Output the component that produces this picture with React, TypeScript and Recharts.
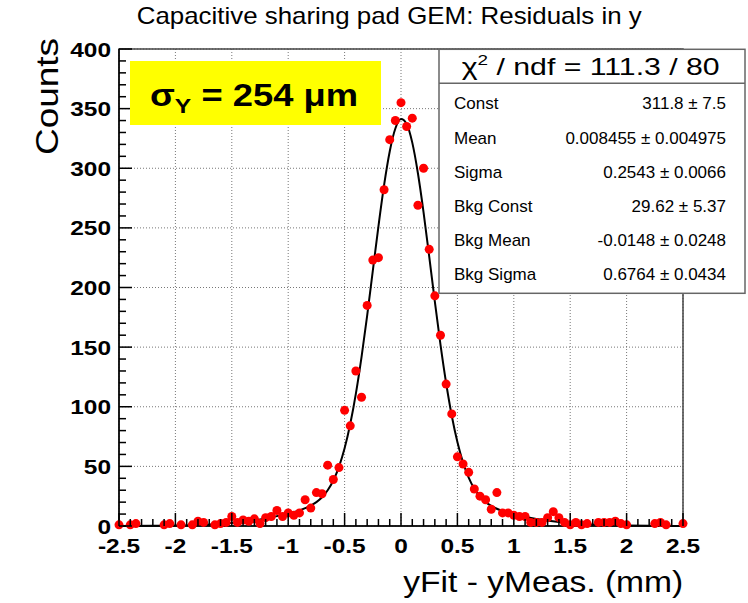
import React from "react"
import {
  ComposedChart,
  Scatter,
  Line,
  XAxis,
  YAxis,
  CartesianGrid,
  ReferenceArea,
} from "recharts"

// histogram bins (bin centre, mm) and counts
const binX = [
  -2.5, -2.4, -2.35, -2.1, -2.05, -1.95, -1.85, -1.8, -1.75, -1.65, -1.6, -1.55, -1.5, -1.45, -1.4, -1.35,
  -1.3, -1.25, -1.2, -1.15, -1.1, -1.05, -1.0, -0.95, -0.9, -0.85, -0.8, -0.75, -0.7, -0.65, -0.6, -0.55,
  -0.5, -0.45, -0.4, -0.35, -0.3, -0.25, -0.2, -0.15, -0.1, -0.05, 0, 0.05, 0.1, 0.15, 0.2, 0.25, 0.3,
  0.35, 0.4, 0.45, 0.5, 0.55, 0.6, 0.65, 0.7, 0.75, 0.8, 0.85, 0.9, 0.95, 1.0, 1.05, 1.1, 1.15, 1.2, 1.25,
  1.3, 1.35, 1.4, 1.45, 1.5, 1.55, 1.6, 1.65, 1.75, 1.8, 1.85, 1.9, 1.95, 2.0, 2.25, 2.3, 2.35, 2.5,
]
const binCounts = [
  1, 1, 2, 1, 2, 1, 1, 4, 3, 1, 2, 3, 8, 3, 5, 4,
  6, 2, 7, 8, 13, 8, 11, 9, 11, 22, 15, 28, 27, 51, 39, 49,
  97, 84, 130, 108, 185, 223, 225, 282, 324, 340, 355, 335, 342, 269, 300, 232, 193,
  160, 119, 94, 58, 52, 45, 31, 25, 22, 14, 28, 11, 11, 9, 8, 8, 3, 3, 3,
  7, 12, 7, 3, 1, 3, 1, 2, 3, 3, 3, 4, 2, 1, 2, 3, 1, 2,
]

// fitted curve (double gaussian)
const fitX = [
  -2.5, -2.2, -2.0, -1.8, -1.6, -1.4, -1.2, -1.0, -0.9, -0.8, -0.75, -0.7, -0.65, -0.6, -0.55, -0.5,
  -0.45, -0.4, -0.35, -0.3, -0.25, -0.2, -0.15, -0.1, -0.05, 0, 0.05, 0.1, 0.15, 0.2, 0.25, 0.3, 0.35,
  0.4, 0.45, 0.5, 0.55, 0.6, 0.65, 0.7, 0.75, 0.8, 0.9, 1.0, 1.2, 1.4, 1.6, 1.8, 2.0, 2.2, 2.5,
]
const fitY = [
  0.05, 0.2, 0.4, 0.9, 1.9, 3.6, 6.4, 10.4, 13.1, 17.1, 20, 24.1, 30, 38.2, 49.6, 65.1,
  85.5, 111, 141.6, 176.5, 213.9, 251.3, 285.8, 314.1, 333.3, 341.2, 337.2, 321.5, 295.8, 263, 226, 188.2, 152.1,
  119.9, 92.5, 70.4, 53.2, 40.5, 31.2, 24.7, 20.1, 16.8, 12.5, 9.8, 5.9, 3.3, 1.7, 0.8, 0.35, 0.14, 0.04,
]

const xTicks = [-2.5, -2, -1.5, -1, -0.5, 0, 0.5, 1, 1.5, 2, 2.5]
const yTicks = [0, 50, 100, 150, 200, 250, 300, 350, 400]
const xMinorTicks = [
  -2.4, -2.3, -2.2, -2.1, -1.9, -1.8, -1.7, -1.6, -1.4, -1.3, -1.2, -1.1, -0.9, -0.8, -0.7, -0.6,
  -0.4, -0.3, -0.2, -0.1, 0.1, 0.2, 0.3, 0.4, 0.6, 0.7, 0.8, 0.9, 1.1, 1.2, 1.3, 1.4, 1.6, 1.7, 1.8,
  1.9, 2.1, 2.2, 2.3, 2.4,
]
const yMinorTicks = [
  10, 20, 30, 40, 60, 70, 80, 90, 110, 120, 130, 140, 160, 170, 180, 190, 210, 220, 230, 240, 260, 270,
  280, 290, 310, 320, 330, 340, 360, 370, 380, 390,
]

const statNames = ["Const", "Mean", "Sigma", "Bkg Const", "Bkg Mean", "Bkg Sigma"]
const statValues = [
  "311.8 \u00b1 7.5",
  "0.008455 \u00b1 0.004975",
  "0.2543 \u00b1 0.0066",
  "29.62 \u00b1 5.37",
  "-0.0148 \u00b1 0.0248",
  "0.6764 \u00b1 0.0434",
]

const X_MIN = -2.5

const histData = binX.map((x, i) => ({ x, y: binCounts[i] }))
const fitData = fitX.map((x, i) => ({ x, y: fitY[i] }))
// tick marks sit on the axes: x ticks at count 0, y ticks at the left edge
const xMajorMarks = xTicks.map((x) => ({ x, y: 0 }))
const xMinorMarks = xMinorTicks.map((x) => ({ x, y: 0 }))
const yMajorMarks = yTicks.map((y) => ({ x: X_MIN, y }))
const yMinorMarks = yMinorTicks.map((y) => ({ x: X_MIN, y }))

const FONT = "'Liberation Sans', Arial, Helvetica, sans-serif"

// ROOT labels come out wider than Liberation, stretch them a bit
function labelWidth(s: string) {
  let w = 0
  for (const c of s) w += c === "-" ? 8.1 : c === "." ? 6.8 : 13.6
  return w
}

function XTick({ x, y, payload }: any) {
  const s = String(payload.value)
  return (
    <text
      x={x}
      y={y + 27}
      textAnchor="middle"
      fontFamily={FONT}
      fontWeight="bold"
      fontSize={20}
      textLength={labelWidth(s)}
      lengthAdjust="spacingAndGlyphs"
      fill="#000"
    >
      {s}
    </text>
  )
}

function YTick({ x, y, payload }: any) {
  const s = String(payload.value)
  return (
    <text
      x={x - 8}
      y={y + 7.5}
      textAnchor="end"
      fontFamily={FONT}
      fontWeight="bold"
      fontSize={20}
      textLength={labelWidth(s)}
      lengthAdjust="spacingAndGlyphs"
      fill="#000"
    >
      {s}
    </text>
  )
}

const Dot = (p: any) => <circle cx={p.cx} cy={p.cy} r={4.5} fill="#ff0000" />
// inward tick marks drawn as thin bars
const vMark = (len: number) => (p: any) => <rect x={p.cx - 0.75} y={p.cy - len} width={1.5} height={len} fill="#000" />
const hMark = (len: number) => (p: any) => <rect x={p.cx} y={p.cy - 0.75} width={len} height={1.5} fill="#000" />

export default function App() {
  const W = 748
  const H = 603
  return (
    <div style={{ position: "absolute", left: 0, top: 0, width: W, height: H, background: "#fff" }}>
      <ComposedChart width={W} height={H} margin={{ top: 49, right: 65, bottom: 47, left: 59 }}>
        <CartesianGrid stroke="#777" strokeDasharray="1 2" xAxisId="x" yAxisId="y" />
        <XAxis
          xAxisId="x"
          type="number"
          dataKey="x"
          domain={[-2.5, 2.5]}
          ticks={xTicks}
          interval={0}
          height={30}
          axisLine={{ stroke: "#000", strokeWidth: 1.5 }}
          tickSize={0}
          tickMargin={0}
          tickLine={false}
          tick={<XTick />}
        />
        <YAxis
          yAxisId="y"
          type="number"
          domain={[0, 400]}
          ticks={yTicks}
          interval={0}
          width={60}
          axisLine={{ stroke: "#000", strokeWidth: 1.5 }}
          tickSize={0}
          tickMargin={0}
          tickLine={false}
          tick={<YTick />}
        />
        <ReferenceArea
          xAxisId="x"
          yAxisId="y"
          x1={-2.5}
          x2={2.5}
          y1={0}
          y2={400}
          fill="none"
          stroke="#444"
          strokeWidth={1.5}
        />
        <Scatter
          xAxisId="x"
          yAxisId="y"
          data={histData}
          dataKey="y"
          shape={Dot}
          isAnimationActive={false}
        />
        <Line
          xAxisId="x"
          yAxisId="y"
          data={fitData}
          dataKey="y"
          type="monotone"
          stroke="#000"
          strokeWidth={2}
          dot={false}
          activeDot={false}
          isAnimationActive={false}
        />
        <Scatter xAxisId="x" yAxisId="y" data={xMajorMarks} dataKey="y" shape={vMark(13)} isAnimationActive={false} />
        <Scatter xAxisId="x" yAxisId="y" data={xMinorMarks} dataKey="y" shape={vMark(7)} isAnimationActive={false} />
        <Scatter xAxisId="x" yAxisId="y" data={yMajorMarks} dataKey="y" shape={hMark(13)} isAnimationActive={false} />
        <Scatter xAxisId="x" yAxisId="y" data={yMinorMarks} dataKey="y" shape={hMark(7)} isAnimationActive={false} />
      </ComposedChart>

      <svg
        width={W}
        height={H}
        style={{ position: "absolute", left: 0, top: 0, pointerEvents: "none" }}
        fontFamily={FONT}
      >
        <text x={136.7} y={24} fontSize={24} textLength={505} lengthAdjust="spacingAndGlyphs">
          Capacitive sharing pad GEM: Residuals in y
        </text>

        <text transform="translate(58.3,155) rotate(-90)" fontSize={32} textLength={117} lengthAdjust="spacingAndGlyphs">
          Counts
        </text>

        <text x={403.3} y={591.5} fontSize={30} textLength={280} lengthAdjust="spacingAndGlyphs">
          yFit - yMeas. (mm)
        </text>

        {/* sigma label */}
        <rect x={130} y={61} width={251} height={64} fill="#ffff00" />
        <text x={150} y={105.7} fontSize={31} fontWeight="bold" textLength={208} lengthAdjust="spacingAndGlyphs">
          σ<tspan fontSize={21} dy={7}>Y</tspan>
          <tspan dy={-7}> = 254 μm</tspan>
        </text>

        {/* stats box */}
        <rect x={439} y={49.3} width={306} height={244} fill="#fff" stroke="#666" strokeWidth={1.5} />
        <line x1={439} x2={745} y1={83.3} y2={83.3} stroke="#666" strokeWidth={1.5} />
        <text x={461.7} y={75} fontSize={24} textLength={258} lengthAdjust="spacingAndGlyphs">
          χ<tspan fontSize={15} dy={-10}>2</tspan>
          <tspan dy={10}> / ndf = 111.3 / 80</tspan>
        </text>
        {statNames.map((n, i) => (
          <g key={n}>
            <text x={454} y={109.3 + i * 34.2} fontSize={17}>
              {n}
            </text>
            <text x={726} y={109.3 + i * 34.2} fontSize={17} textAnchor="end">
              {statValues[i]}
            </text>
          </g>
        ))}
      </svg>
    </div>
  )
}
